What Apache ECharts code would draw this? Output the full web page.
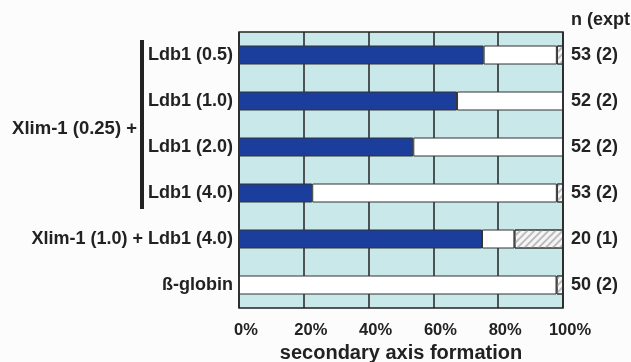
<!DOCTYPE html>
<html><head><meta charset="utf-8">
<script src="https://cdn.jsdelivr.net/npm/echarts@6/dist/echarts.min.js"></script>
<style>html,body{margin:0;padding:0;background:#fcfcfc}#c{width:631px;height:362px}</style>
</head><body><div id="c"></div>
<script>
const categories = ['Ldb1 (0.5)','Ldb1 (1.0)','Ldb1 (2.0)','Ldb1 (4.0)','Xlim-1 (1.0) + Ldb1 (4.0)','ß-globin'];
const nLabels = ['53 (2)','52 (2)','52 (2)','53 (2)','20 (1)','50 (2)'];
const blueVals = [75.5, 67.3, 53.8, 22.6, 75, 0];
const whiteVals = [22.6, 32.7, 46.2, 75.5, 10, 98];
const hatchVals = [1.9, 0, 0, 1.9, 15, 2];
const xTicks = [0, 20, 40, 60, 80, 100];

const FONT = '"Liberation Sans", Arial, Helvetica, sans-serif';
const TXT = '#222';
const chart = echarts.init(document.getElementById('c'));
const barStyle = {borderColor:'#333', borderWidth:1};
chart.setOption({
  animation:false,
  grid:{left:239, right:68, top:32, bottom:54, outerBoundsMode:'none', containLabel:false, show:true, backgroundColor:'#c8e8ea', borderColor:'#222', borderWidth:1.5},
  xAxis:{type:'value', min:xTicks[0], max:xTicks[xTicks.length-1], interval:20,
    axisLine:{show:false}, axisTick:{show:false},
    splitLine:{show:true, lineStyle:{color:'#222', width:1.5}},
    axisLabel:{formatter:'{value}%', fontFamily:FONT, fontWeight:'bold', fontSize:16.5, color:TXT, margin:14, padding:[0,0,0,14]},
    name:'secondary axis formation', nameLocation:'middle', nameGap:31,
    nameTextStyle:{fontFamily:FONT, fontWeight:'bold', fontSize:20, color:TXT}
  },
  yAxis:[
    {type:'category', data:categories, inverse:true, axisLine:{show:false}, axisTick:{show:false},
     axisLabel:{fontFamily:FONT, fontWeight:'bold', fontSize:18, color:TXT, margin:6}},
    {type:'category', data:nLabels, inverse:true, position:'right', axisLine:{show:false}, axisTick:{show:false},
     axisLabel:{fontFamily:FONT, fontWeight:'bold', fontSize:18, color:TXT, margin:8}}
  ],
  series:[
    {type:'bar', stack:'a', data:blueVals, barWidth:19, itemStyle:Object.assign({color:'#1b3e9c'}, barStyle)},
    {type:'bar', stack:'a', data:whiteVals, barWidth:19, itemStyle:Object.assign({color:'#ffffff'}, barStyle)},
    {type:'bar', stack:'a', data:hatchVals, barWidth:19,
     itemStyle:Object.assign({color:'#f6f6f6', decal:{symbol:'rect', color:'#bdbdbd', dashArrayX:[1,0], dashArrayY:[1.5,3], rotation:-Math.PI/4}}, barStyle)}
  ],
  graphic:[
    {type:'rect', left:140, top:40, shape:{width:4, height:169}, style:{fill:'#222'}},
    {type:'text', right:631-137, top:119, style:{text:'Xlim-1 (0.25) +', font:'bold 18.5px '+FONT, fill:TXT, textAlign:'right'}},
    {type:'text', left:571, top:11, style:{text:'n (expt', font:'bold 18px '+FONT, fill:TXT}}
  ]
});
</script></body></html>
